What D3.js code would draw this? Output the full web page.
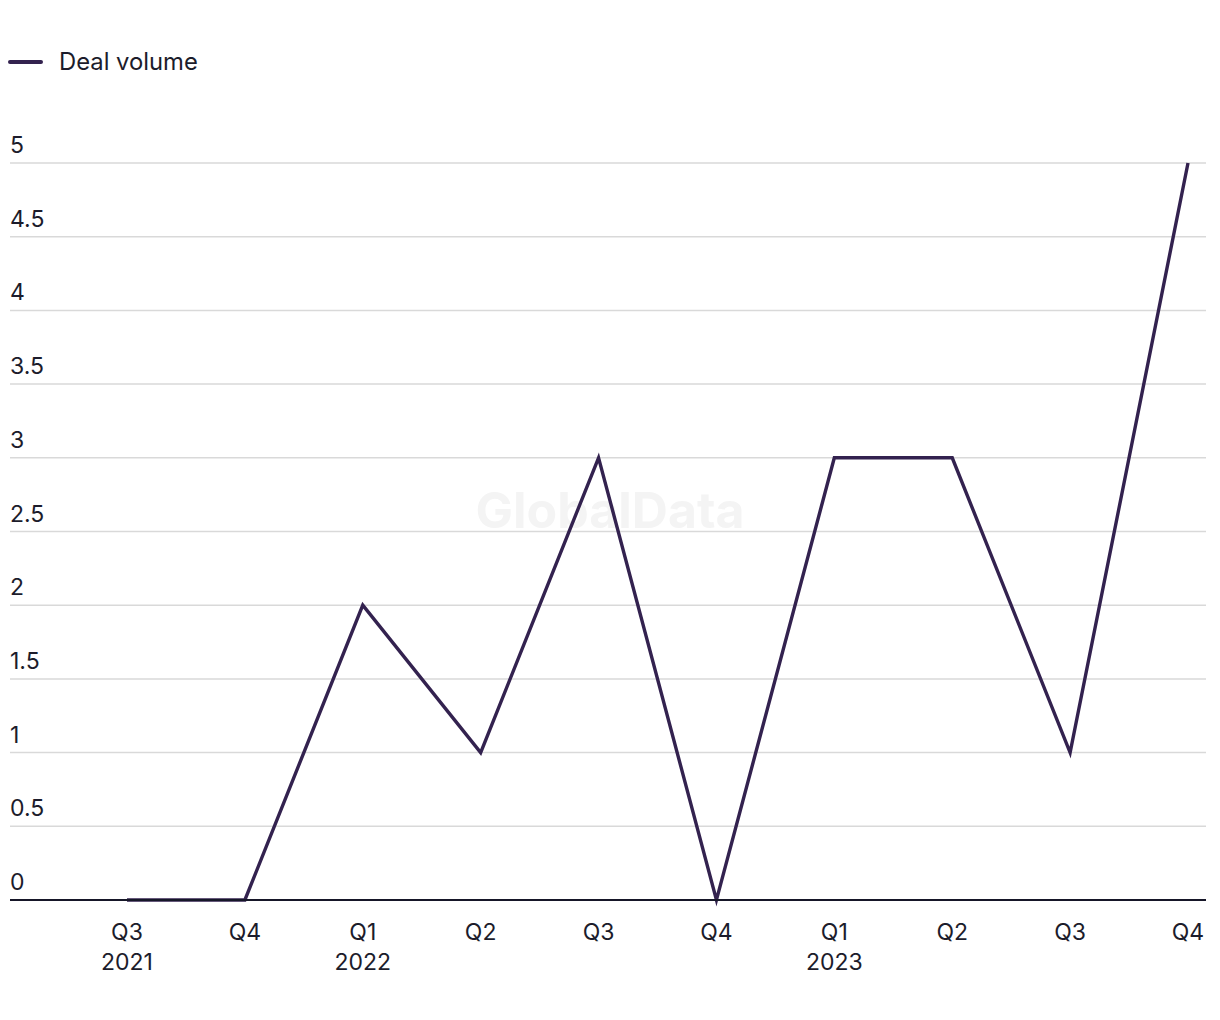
<!DOCTYPE html>
<html><head><meta charset="utf-8">
<script src="https://cdn.jsdelivr.net/npm/d3@7"></script>
<style>body{margin:0;background:#fff;}svg{display:block;font-family:Inter, "Noto Sans", sans-serif;}</style>
</head><body>
<svg id="c" width="1220" height="1020"></svg>
<script>
const quarters = ["Q3","Q4","Q1","Q2","Q3","Q4","Q1","Q2","Q3","Q4"];
const years = ["2021","","2022","","","","2023","","",""];
const dealVolume = [0,0,2,1,3,0,3,3,1,5];
const yTicks = [0,0.5,1,1.5,2,2.5,3,3.5,4,4.5,5];
const seriesName = "Deal volume";

(function(){
const svg = d3.select("#c");
const left = 10, right = 1206, plotTop = 163, plotBottom = 900;
const idx = d3.range(quarters.length);
const x = d3.scalePoint().domain(idx).range([127, 1188]);
const y = d3.scaleLinear().domain([0,5]).range([plotBottom, plotTop]);

// watermark
svg.append("text").attr("x", 610).attr("y", 528).attr("text-anchor","middle")
  .attr("font-size", 50).attr("font-weight", 700).attr("fill","#f4f4f4").text("GlobalData");

// grid
const g = svg.append("g");
g.selectAll("line.grid").data(yTicks.filter(d=>d>0)).join("line")
  .attr("x1", left).attr("x2", right).attr("y1", d=>y(d)).attr("y2", d=>y(d))
  .attr("stroke","#d9d9d9").attr("stroke-width",1.5);
g.selectAll("text.yl").data(yTicks).join("text")
  .attr("x", left).attr("y", d=>y(d)-10).attr("font-size", 23).attr("fill","#1c1c2b")
  .text(d=>d);

// line
const line = d3.line().x(i=>x(i)).y(i=>y(dealVolume[i]));
svg.append("path").datum(idx).attr("d", line).attr("fill","none")
  .attr("stroke","#33224f").attr("stroke-width",3.4).attr("stroke-linejoin","miter");

// axis line
svg.append("line").attr("x1", left).attr("x2", right).attr("y1", plotBottom).attr("y2", plotBottom)
  .attr("stroke","#161628").attr("stroke-width",2);

// x labels
svg.selectAll("text.q").data(idx).join("text")
  .attr("x", i=>x(i)).attr("y", 940).attr("text-anchor","middle").attr("font-size",23).attr("fill","#1c1c2b")
  .text(i=>quarters[i]);
svg.selectAll("text.yr").data(idx).join("text")
  .attr("x", i=>x(i)).attr("y", 970).attr("text-anchor","middle").attr("font-size",23).attr("fill","#1c1c2b")
  .text(i=>years[i]);

// legend
svg.append("line").attr("x1",10).attr("x2",41).attr("y1",62).attr("y2",62)
  .attr("stroke","#33224f").attr("stroke-width",4).attr("stroke-linecap","round");
svg.append("text").attr("x",59).attr("y",70).attr("font-size",23.8).attr("fill","#1c1c2b").text(seriesName);
})();
</script>
</body></html>
